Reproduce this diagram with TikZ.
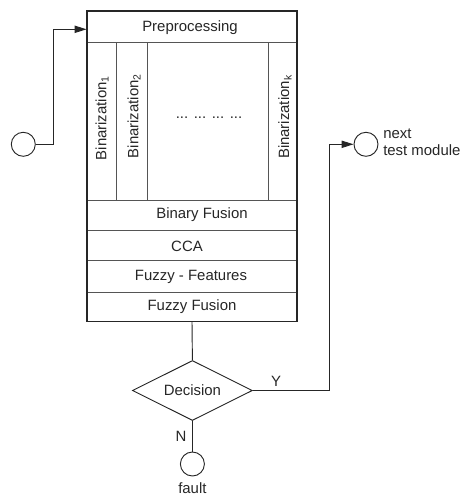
\documentclass[tikz,border=0pt]{standalone}
\usepackage{fontspec}
\setmainfont{Liberation Sans}
\usetikzlibrary{fit,shapes.geometric,arrows.meta}
\definecolor{ink}{HTML}{262626}
\definecolor{rule}{HTML}{555555}
\begin{document}
\begin{tikzpicture}[x=0.75pt,y=-0.75pt,
  box/.style={draw=rule, line width=0.7pt, inner sep=0pt},
  txt/.style={text=ink, font=\fontsize{11.2}{12.5}\selectfont, inner sep=0pt},
  conn/.style={draw=ink, line width=0.7pt},
  arr/.style={conn, -{Triangle[length=9pt,width=5.5pt]}},
  term/.style={circle, draw=ink, line width=0.7pt, minimum size=18pt, inner sep=0pt}]
\useasboundingbox (0,0) rectangle (464,495);
% rows of the module box
\node[box, fit={(87,11)(297,42)}] (pre) {};
\node[box, fit={(87,42)(116.7,200)}] (bina) {};
\node[box, fit={(116.7,42)(147,200)}] (binb) {};
\node[box, fit={(147,42)(268.7,200)}] (bindots) {};
\node[box, fit={(268.7,42)(297,200)}] (bink) {};
\node[box, fit={(87,200)(297,230.7)}] (binfus) {};
\node[box, fit={(87,230.7)(297,260.7)}] (cca) {};
\node[box, fit={(87,260.7)(297,292.7)}] (fuzfeat) {};
\node[box, fit={(87,292.7)(297,321.7)}] (fuzfus) {};
\draw[ink, line width=0.9pt] (87,11) rectangle (297,321.7);
% texts
\node[txt] (tpre) at (190,28) {Preprocessing};
\node[txt, rotate=90] (tbina) at (102,118) {Binarization\textsubscript{1}};
\node[txt, rotate=90] (tbinb) at (134,116) {Binarization\textsubscript{2}};
\node[txt] (tdots) at (209,118) {... ... ... ...};
\node[txt, rotate=90] (tbink) at (285,117) {Binarization\textsubscript{k}};
\node[txt] (tbinfus) at (202,215) {Binary Fusion};
\node[txt] (tcca) at (187,246) {CCA};
\node[txt] (tfuzfeat) at (191,277) {Fuzzy - Features};
\node[txt] (tfuzfus) at (192,307) {Fuzzy Fusion};
% decision and terminals
\node[diamond, draw=ink, line width=0.7pt, minimum width=90pt, minimum height=45pt, inner sep=0pt, aspect=2] (dec) at (192.4,390.5) {};
\node[txt] (tdec) at (192.4,390.5) {Decision};
\node[term] (in) at (23.3,144.3) {};
\node[term] (next) at (366,144.3) {};
\node[term] (fault) at (192.4,464) {};
\node[txt, anchor=west, align=left] (tnext) at (383,142) {next\\test module};
\node[txt] (tfault) at (192.4,488) {fault};
% connectors
\coordinate (incorner) at (53.3,29.3);
\coordinate (ycorner) at (329.3,144.3);
\draw[arr] (in.east) -| (incorner) -- (incorner -| pre.west);
\draw[conn] (fuzfus.south) -- (dec.north);
\draw[arr] (dec.east) -| (ycorner) -- (next.west);
\draw[conn] (dec.south) -- (fault.north);
\node[txt] (ylab) at (276,381) {Y};
\node[txt] (nlab) at (181,436) {N};
\end{tikzpicture}
\end{document}
